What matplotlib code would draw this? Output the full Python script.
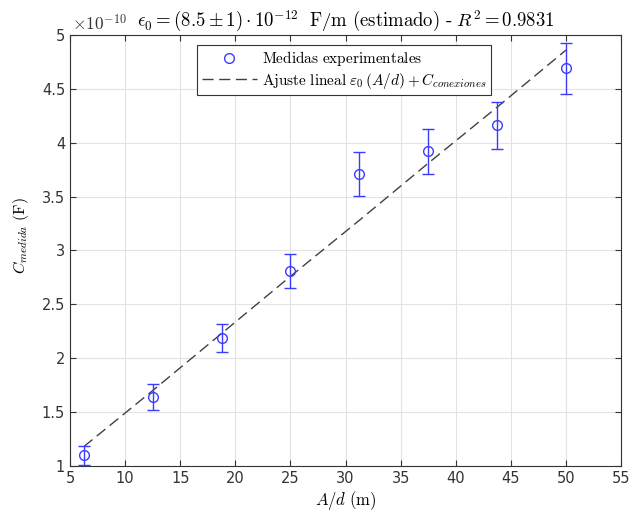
import numpy as np
import matplotlib
matplotlib.use('Agg')
import matplotlib.pyplot as plt
from matplotlib.ticker import FuncFormatter, MultipleLocator

# datos (capacidad en unidades de 1e-10 F)
area_d = [6.25, 12.5, 18.75, 25.0, 31.25, 37.5, 43.75, 50.0]
c_medida = [1.10, 1.64, 2.185, 2.81, 3.71, 3.92, 4.16, 4.69]
c_error = [0.09, 0.12, 0.13, 0.16, 0.20, 0.21, 0.22, 0.24]
c_ajuste = [1.18, 1.70, 2.23, 2.76, 3.28, 3.81, 4.33, 4.86]

plt.rcParams['mathtext.fontset'] = 'cm'
plt.rcParams['font.family'] = ['DejaVu Sans']

azul = '#3c3cff'

fig = plt.figure(figsize=(6.32, 5.15), dpi=100)
ax = fig.add_axes([0.1108, 0.0951, 0.872, 0.837])

# barras de error + marcadores (separados para que la leyenda muestre solo el circulo)
ax.errorbar(area_d, c_medida, yerr=c_error, fmt='none', ecolor=azul,
            elinewidth=1.0, capsize=4, capthick=1.0, zorder=3)
ax.plot(area_d, c_medida, 'o', mfc='none', mec=azul, ms=7, mew=1.0,
        label='$\\mathrm{Medidas\\ experimentales}$', zorder=4)
ax.plot(area_d, c_ajuste, linestyle=(0, (8, 4)), color='#404040', lw=1.0,
        label='$\\mathrm{Ajuste\\ lineal}\\ \\varepsilon_0\\,(A/d) + C_{conexiones}$', zorder=2)

ax.set_xlim(5, 55)
ax.set_ylim(1, 5)
ax.xaxis.set_major_locator(MultipleLocator(5))
ax.yaxis.set_major_locator(MultipleLocator(0.5))
ax.yaxis.set_major_formatter(FuncFormatter(lambda v, p: f'{v:g}'))
ax.grid(True, color='#e3e3e3', lw=0.8)
ax.set_axisbelow(True)
ax.tick_params(direction='in', top=True, right=True, length=4, labelsize=10.5,
               colors='#333333', width=0.8)
for s in ax.spines.values():
    s.set_color('#333333')
    s.set_linewidth(0.8)

# factor de escala estilo MATLAB
ax.text(0.003, 1.002, '$\\times\\mathsf{10^{-10}}$', transform=ax.transAxes, fontsize=12.5,
        color='#333333', ha='left', va='bottom')

ax.set_title('$\\epsilon_0 = (8.5 \\pm 1)\\cdot 10^{-12}\\ \\ \\mathrm{F/m\\ (estimado)\\ \\text{-}\\ }R^2 = 0.9831$',
             fontsize=13.5, pad=6)
ax.set_xlabel('$A/d\\ \\mathrm{(m)}$', fontsize=12, labelpad=2)
ax.set_ylabel('$C_{medida}\\ \\mathrm{(F)}$', fontsize=11.5)
ax.yaxis.set_label_coords(-0.07, 0.534)

leg = ax.legend(loc='upper left', bbox_to_anchor=(0.2305, 0.977), borderaxespad=0,
                fontsize=11, fancybox=False, edgecolor='#333333', framealpha=1,
                handlelength=3.6, handletextpad=0.35, borderpad=0.3, labelspacing=0.15)
leg.get_frame().set_linewidth(0.8)

fig.savefig('out.png', dpi=100)
